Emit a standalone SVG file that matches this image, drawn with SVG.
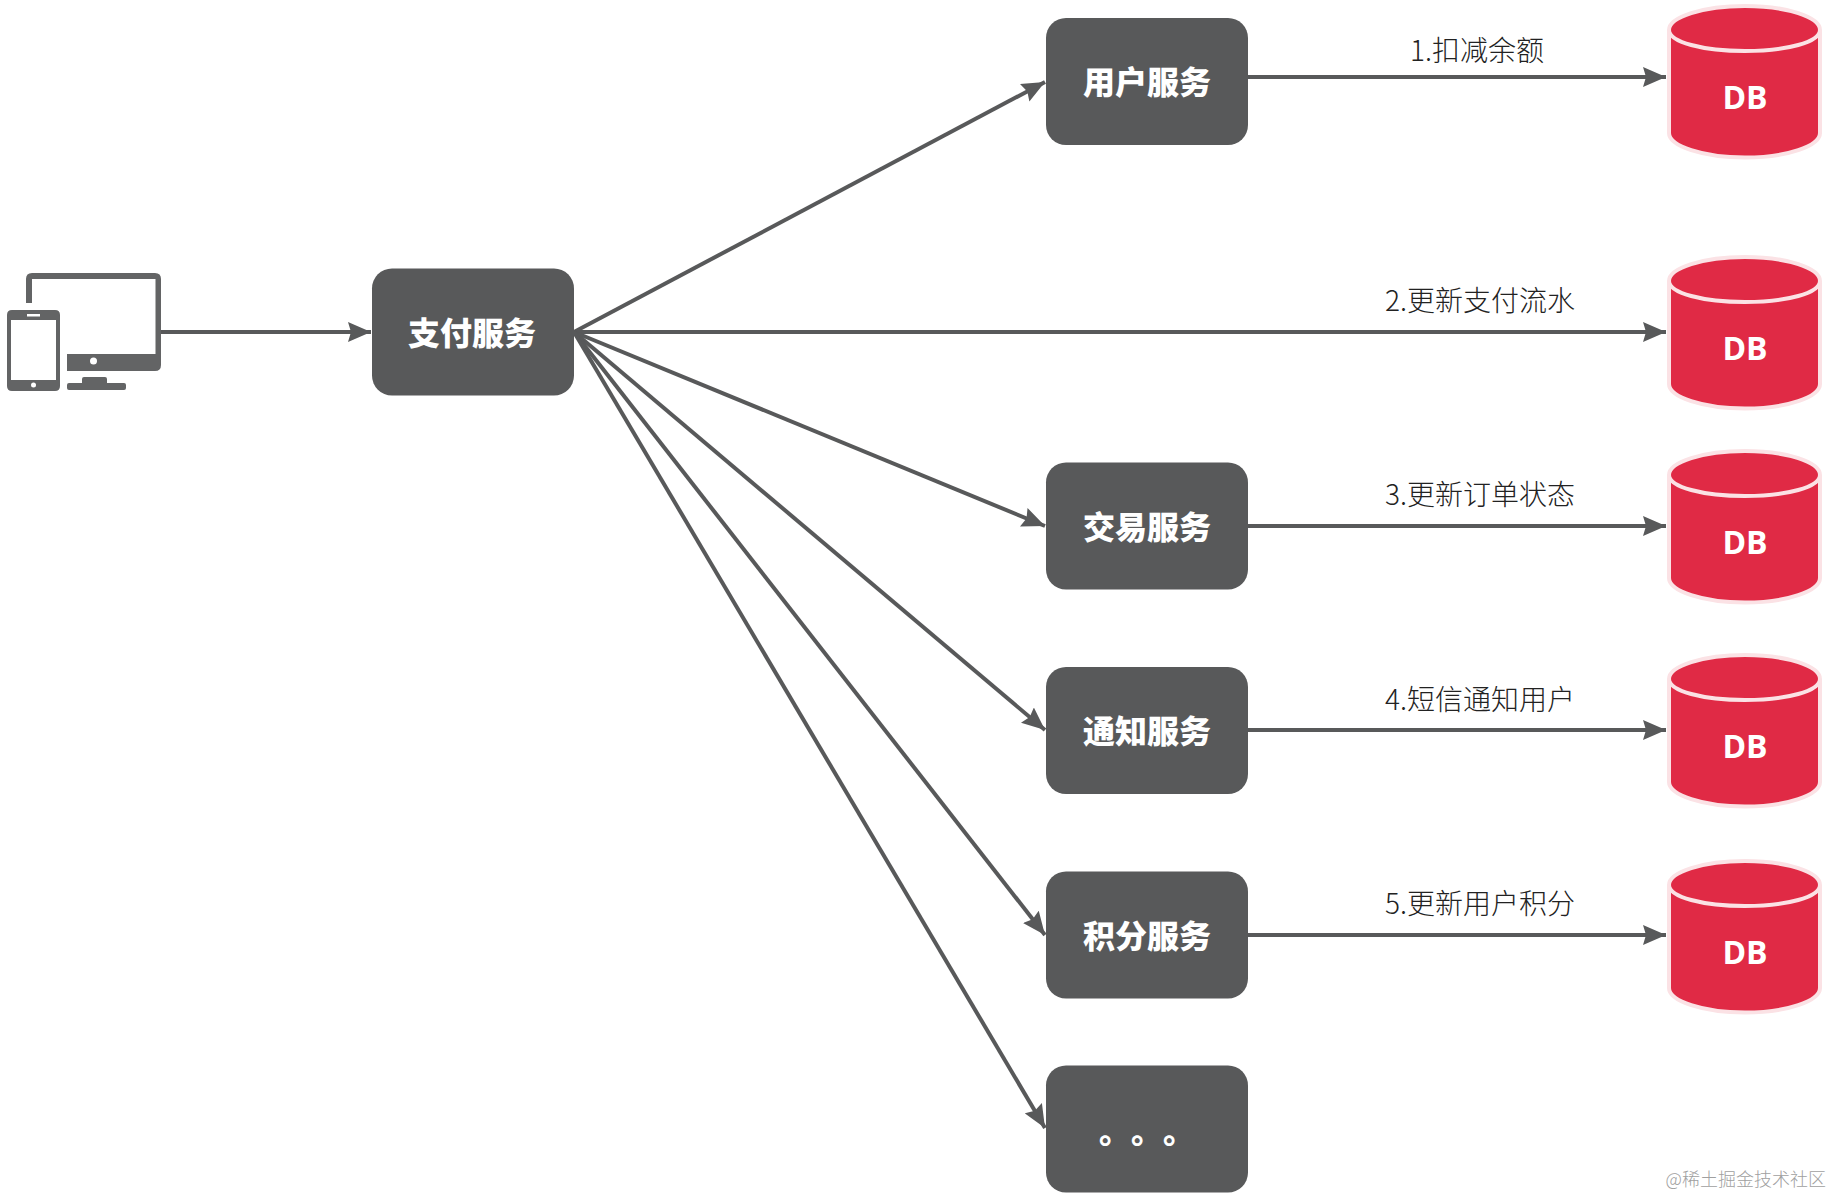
<svg xmlns="http://www.w3.org/2000/svg" width="1832" height="1196" viewBox="0 0 1832 1196">
<style>
.box{fill:#58595a}
.svc{fill:#fff;font-family:"Noto Sans CJK SC","Noto Sans",sans-serif;font-weight:900;font-size:32px;text-anchor:middle}
.lbl{fill:#222;font-family:"Noto Sans CJK SC","Noto Sans",sans-serif;font-weight:300;font-size:28px;text-anchor:middle}
.db{fill:#e02a45;stroke:#fbe2e5;stroke-width:4}
.rim{fill:none;stroke:#fbe2e5;stroke-width:4}
.dbt{fill:#fff;font-family:"Open Sans","Noto Sans",sans-serif;font-weight:700;font-size:32px;text-anchor:middle}
.c{fill:none;stroke:#58595a;stroke-width:4;marker-end:url(#a)}
.ic{fill:#636465}
</style>
<defs>
<marker id="a" markerUnits="userSpaceOnUse" markerWidth="24" markerHeight="20" refX="23" refY="10" orient="auto"><path d="M0 0L23 10L0 20L3 10Z" fill="#58595a"/></marker>
<path id="cyl" class="db" d="M1669 30C1669 17 1703 6 1745 6S1820 17 1820 30V133C1820 146 1787 157.500 1745 157.500S1669 146 1669 133Z"/>
<path id="rimp" class="rim" d="M1669 30C1669 42 1703 51 1745 51S1820 42 1820 30"/>
</defs>
<rect width="1832" height="1196" fill="#fff"/>
<g id="connectors">
<path class="c" d="M161 332H371"/>
<path class="c" d="M574 332L1045 82"/>
<path class="c" d="M574 332H1666"/>
<path class="c" d="M574 332L1045 526"/>
<path class="c" d="M574 332L1045 730"/>
<path class="c" d="M574 332L1045 935"/>
<path class="c" d="M574 332L1045 1128"/>
<path class="c" d="M1248 77H1666"/>
<path class="c" d="M1248 526H1666"/>
<path class="c" d="M1248 730H1666"/>
<path class="c" d="M1248 935H1666"/>
</g>
<g id="labels">
<text class="lbl" x="1477" y="61">1.扣减余额</text>
<text class="lbl" x="1480" y="311">2.更新支付流水</text>
<text class="lbl" x="1480" y="505">3.更新订单状态</text>
<text class="lbl" x="1480" y="710">4.短信通知用户</text>
<text class="lbl" x="1480" y="914">5.更新用户积分</text>
</g>
<g id="client">
<path class="ic" d="M26 303V279Q26 273 32 273H155Q161 273 161 279V365Q161 371 155 371H67V354H155.500V279H32V303Z"/>
<circle cx="93.500" cy="361" r="3.500" fill="#fff"/>
<path class="ic" d="M82 383V379Q82 377 84 377H105Q107 377 107 379V383H124Q126 383 126 385V388Q126 390 124 390H69Q67 390 67 388V385Q67 383 69 383Z"/>
<path class="ic" fill-rule="evenodd" d="M12 310H55Q60 310 60 315V386Q60 391 55 391H12Q7 391 7 386V315Q7 310 12 310ZM11 320V380H56V320Z"/>
<rect x="27" y="314" width="13" height="2.500" fill="#fff"/>
<circle cx="33.500" cy="385" r="2.500" fill="#fff"/>
</g>
<g id="pay"><rect class="box" x="372" y="268.500" width="202" height="127" rx="20"/><text class="svc" x="472" y="345">支付服务</text></g>
<g id="user"><rect class="box" x="1046" y="18" width="202" height="127" rx="20"/><text class="svc" x="1147" y="94">用户服务</text></g>
<g id="trade"><rect class="box" x="1046" y="462.500" width="202" height="127" rx="20"/><text class="svc" x="1147" y="539">交易服务</text></g>
<g id="notify"><rect class="box" x="1046" y="667" width="202" height="127" rx="20"/><text class="svc" x="1147" y="743">通知服务</text></g>
<g id="points"><rect class="box" x="1046" y="871.500" width="202" height="127" rx="20"/><text class="svc" x="1147" y="948">积分服务</text></g>
<g id="more"><rect class="box" x="1046" y="1065.500" width="202" height="127" rx="20"/><text class="svc" x="1099 1131 1163" y="1143" style="text-anchor:start">。。。</text></g>
<g id="db1"><use href="#cyl"/><use href="#rimp"/><text class="dbt" x="1745" y="109">DB</text></g>
<g id="db2" transform="translate(0 251)"><use href="#cyl"/><use href="#rimp"/><text class="dbt" x="1745" y="109">DB</text></g>
<g id="db3" transform="translate(0 445)"><use href="#cyl"/><use href="#rimp"/><text class="dbt" x="1745" y="109">DB</text></g>
<g id="db4" transform="translate(0 649)"><use href="#cyl"/><use href="#rimp"/><text class="dbt" x="1745" y="109">DB</text></g>
<g id="db5" transform="translate(0 855)"><use href="#cyl"/><use href="#rimp"/><text class="dbt" x="1745" y="109">DB</text></g>
<text x="1826" y="1186" fill="#a0a0a0" font-family="Noto Sans CJK SC,sans-serif" font-weight="300" font-size="18" text-anchor="end">@稀土掘金技术社区</text>
</svg>
